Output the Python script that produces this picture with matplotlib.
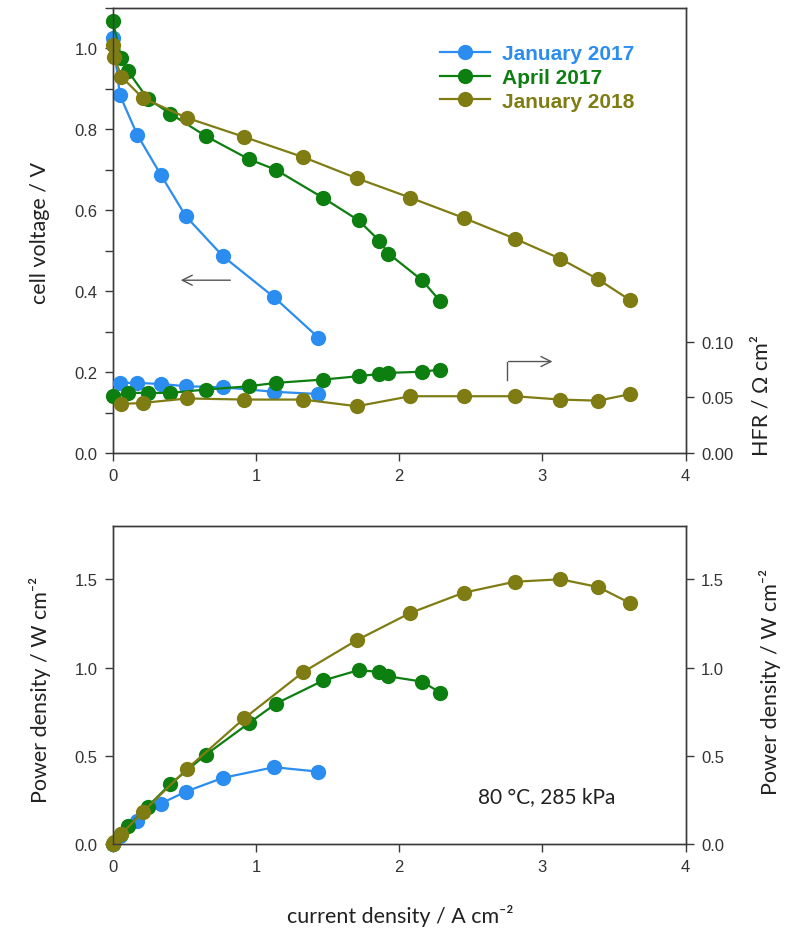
import matplotlib
matplotlib.use("Agg")
import matplotlib.pyplot as plt
from matplotlib.ticker import MultipleLocator, FormatStrFormatter

# ---- data ----
labels = ["January 2017", "April 2017", "January 2018"]
colors = ["#2b8df0", "#0c7f10", "#807c14"]

# polarization curves
j_jan17 = [0.0, 0.05, 0.17, 0.336, 0.51, 0.77, 1.126, 1.436]
v_jan17 = [1.025, 0.884, 0.787, 0.687, 0.585, 0.486, 0.385, 0.285]

j_apr17 = [0.0, 0.06, 0.107, 0.243, 0.40, 0.65, 0.951, 1.138, 1.471, 1.716, 1.86, 1.925, 2.159, 2.287]
v_apr17 = [1.067, 0.976, 0.943, 0.876, 0.839, 0.783, 0.726, 0.700, 0.630, 0.575, 0.525, 0.493, 0.427, 0.375]

j_jan18 = [0.0, 0.01, 0.06, 0.21, 0.52, 0.918, 1.331, 1.704, 2.077, 2.45, 2.806, 3.126, 3.39, 3.615]
v_jan18 = [1.009, 0.979, 0.930, 0.877, 0.828, 0.781, 0.731, 0.679, 0.631, 0.581, 0.530, 0.480, 0.429, 0.377]

# high frequency resistance
jh_jan17 = [0.05, 0.17, 0.336, 0.51, 0.77, 1.126, 1.436]
hfr_jan17 = [0.063, 0.063, 0.062, 0.060, 0.059, 0.055, 0.053]

jh_apr17 = [0.0, 0.107, 0.243, 0.40, 0.65, 0.951, 1.138, 1.471, 1.716, 1.86, 1.925, 2.159, 2.287]
hfr_apr17 = [0.051, 0.054, 0.054, 0.054, 0.057, 0.060, 0.063, 0.066, 0.069, 0.071, 0.072, 0.073, 0.075]

jh_jan18 = [0.06, 0.21, 0.52, 0.918, 1.331, 1.704, 2.077, 2.45, 2.806, 3.126, 3.39, 3.615]
hfr_jan18 = [0.044, 0.045, 0.049, 0.048, 0.048, 0.042, 0.051, 0.051, 0.051, 0.048, 0.047, 0.053]

# power density
jp_jan17 = [0.0, 0.05, 0.17, 0.336, 0.51, 0.77, 1.126, 1.436]
p_jan17 = [0.0, 0.044, 0.130, 0.229, 0.297, 0.375, 0.435, 0.410]

jp_apr17 = [0.0, 0.06, 0.107, 0.243, 0.40, 0.65, 0.951, 1.138, 1.471, 1.716, 1.86, 1.925, 2.159, 2.287]
p_apr17 = [0.0, 0.059, 0.10, 0.212, 0.338, 0.506, 0.685, 0.795, 0.927, 0.985, 0.975, 0.950, 0.920, 0.858]

jp_jan18 = [0.0, 0.01, 0.06, 0.21, 0.52, 0.918, 1.331, 1.704, 2.077, 2.45, 2.806, 3.126, 3.39, 3.615]
p_jan18 = [0.0, 0.01, 0.056, 0.182, 0.427, 0.712, 0.975, 1.155, 1.309, 1.424, 1.486, 1.500, 1.456, 1.364]

# ---- style ----
plt.rcParams['font.family'] = ['Liberation Sans', 'DejaVu Sans']
label_font = ['Lato', 'DejaVu Sans']
axis_col = "#3a3a3a"
ms = 11
lw = 1.6

fig = plt.figure(figsize=(8, 9.37), dpi=100)
ax1 = fig.add_axes([0.141, 0.5155, 0.716, 0.475])
ax2 = ax1.twinx()
ax3 = fig.add_axes([0.141, 0.0982, 0.716, 0.339])
ax4 = ax3.twinx()

pol = [(j_jan17, v_jan17), (j_apr17, v_apr17), (j_jan18, v_jan18)]
hfr = [(jh_jan17, hfr_jan17), (jh_apr17, hfr_apr17), (jh_jan18, hfr_jan18)]
pwr = [(jp_jan17, p_jan17), (jp_apr17, p_apr17), (jp_jan18, p_jan18)]

for (x, y), c, lab in zip(pol, colors, labels):
    ax1.plot(x, y, "-o", color=c, lw=lw, ms=ms, mew=0, label=lab, clip_on=False, zorder=3)
for (x, y), c in zip(hfr, colors):
    ax2.plot(x, y, "-o", color=c, lw=lw, ms=ms, mew=0, clip_on=False, zorder=3)
for (x, y), c in zip(pwr, colors):
    ax3.plot(x, y, "-o", color=c, lw=lw, ms=ms, mew=0, clip_on=False, zorder=3)

ax1.set_xlim(0, 4)
ax1.set_ylim(0, 1.1)
ax2.set_ylim(0, 0.4)
ax3.set_xlim(0, 4)
ax3.set_ylim(0, 1.8)
ax4.set_ylim(0, 1.8)

ax1.yaxis.set_major_locator(MultipleLocator(0.2))
ax1.yaxis.set_minor_locator(MultipleLocator(0.1))
ax1.yaxis.set_major_formatter(FormatStrFormatter('%.1f'))
ax1.xaxis.set_major_locator(MultipleLocator(1))
ax2.set_yticks([0.0, 0.05, 0.10])
ax2.yaxis.set_major_formatter(FormatStrFormatter('%.2f'))
ax3.xaxis.set_major_locator(MultipleLocator(1))
for a in (ax3, ax4):
    a.yaxis.set_major_locator(MultipleLocator(0.5))
    a.yaxis.set_major_formatter(FormatStrFormatter('%.1f'))

for a in (ax1, ax2, ax3, ax4):
    for s in a.spines.values():
        s.set_color(axis_col)
        s.set_linewidth(1.0)
    a.tick_params(which='both', direction='out', length=6, width=1, colors=axis_col,
                  labelsize=12, labelcolor="#333333", pad=5)
ax1.tick_params(axis='x', top=False)
ax3.tick_params(axis='x', top=False)

# legend
leg = ax1.legend(loc='upper left', bbox_to_anchor=(0.571, 0.918), frameon=False,
                 prop={'weight': 'bold', 'size': 15}, handlelength=2.4,
                 handletextpad=0.6, labelspacing=0.22, borderpad=0, borderaxespad=0)
for t, c in zip(leg.get_texts(), colors):
    t.set_color(c)

# arrows pointing to the axes
arr = dict(arrowstyle='->', color='#555555', lw=1.0, mutation_scale=18)
ax1.annotate('', xy=(0.455, 0.427), xytext=(0.84, 0.427), arrowprops=arr)
ax1.plot([2.75, 2.75], [0.181, 0.226], color='#555555', lw=1.0)
ax1.annotate('', xy=(3.09, 0.226), xytext=(2.745, 0.226), arrowprops=arr)

ax3.text(3.03, 0.27, "80 °C, 285 kPa", family=label_font, fontsize=15,
         ha='center', va='center', color='#222222')

# axis titles
fig.text(0.05, 0.751, "cell voltage / V", rotation=90, ha='center', va='center',
         family=label_font, fontsize=15.5, color='#222222')
fig.text(0.952, 0.578, "HFR / Ω cm²", rotation=90, ha='center', va='center',
         family=label_font, fontsize=15.5, color='#222222')
fig.text(0.05, 0.264, "Power density / W cm⁻²", rotation=90, ha='center', va='center',
         family=label_font, fontsize=15.5, color='#222222')
fig.text(0.963, 0.272, "Power density / W cm⁻²", rotation=90, ha='center', va='center',
         family=label_font, fontsize=15.5, color='#222222')
fig.text(0.5, 0.022, "current density / A cm⁻²", ha='center', va='center',
         family=label_font, fontsize=15.5, color='#222222')

fig.savefig("out.png", dpi=100)
